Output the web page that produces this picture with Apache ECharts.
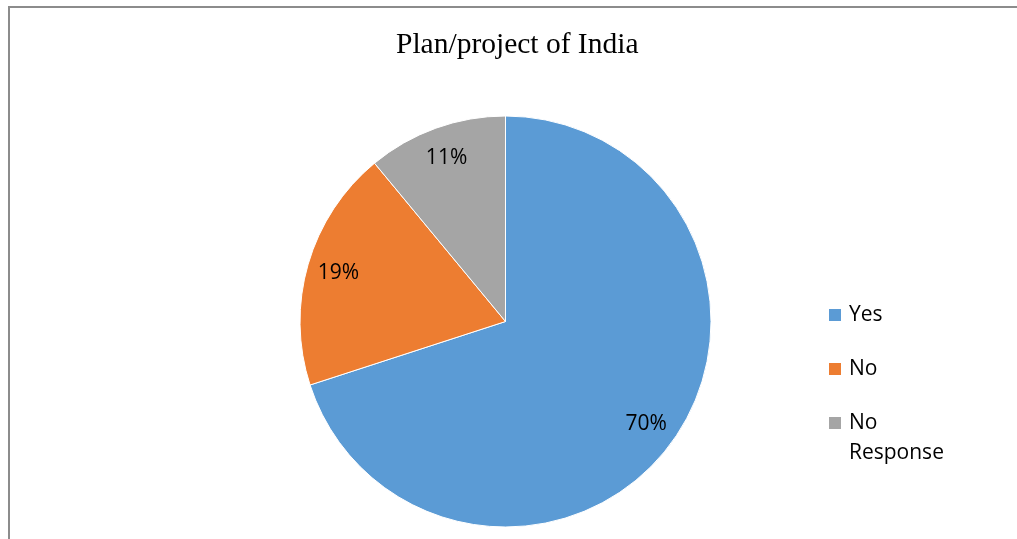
<!DOCTYPE html>
<html>
<head>
<meta charset="utf-8">
<script src="https://cdn.jsdelivr.net/npm/echarts@6/dist/echarts.min.js"></script>
<style>
  html, body { margin: 0; padding: 0; background: #fff; overflow: hidden; }
  #frame { position: absolute; left: 8px; top: 6px; width: 1100px; height: 600px;
           border: 2px solid #8c8c8c; box-sizing: border-box; }
  #chart { position: absolute; left: 0; top: 0; width: 1017px; height: 539px; }
</style>
</head>
<body>
<div id="frame"></div>
<div id="chart"></div>
<script>
// Survey answers, in percent
const categories = ['Yes', 'No', 'No Response'];
const shares = [70, 19, 11];
const colors = ['#5B9BD5', '#ED7D31', '#A5A5A5'];
const titleText = 'Plan/project of India';

const pieData = categories.map((name, i) => ({ name: name, value: shares[i] }));
const center = [505.5, 321.5];
const labelFont = '"Open Sans", "Noto Sans", sans-serif';

const chart = echarts.init(document.getElementById('chart'), null, { renderer: 'canvas' });
chart.setOption({
  animation: false,
  color: colors,
  title: {
    text: titleText,
    left: 396,
    top: 30,
    padding: 0,
    textStyle: {
      fontFamily: '"Liberation Serif", "Times New Roman", serif',
      fontSize: 29.5,
      fontWeight: 'normal',
      color: '#000',
      lineHeight: 29.5
    }
  },
  legend: [
    {
      data: ['Yes', 'No'],
      orient: 'vertical',
      left: 827,
      top: 300,
      padding: 0,
      itemGap: 24,
      icon: 'rect',
      itemWidth: 14,
      itemHeight: 14,
      selectedMode: false,
      textStyle: { fontFamily: labelFont, fontSize: 21, color: '#000', lineHeight: 30, padding: [0, 0, 0, 2] }
    },
    {
      // two-line entry, first line kept level with its swatch
      data: ['No Response'],
      orient: 'vertical',
      left: 827,
      top: 378,
      padding: 0,
      icon: 'rect',
      itemWidth: 14,
      itemHeight: 14,
      selectedMode: false,
      formatter: name => '\n' + name.replace(' ', '\n'),
      textStyle: { fontFamily: labelFont, fontSize: 21, color: '#000', lineHeight: 30, padding: [0, 0, 0, 2] }
    }
  ],
  series: [
    {
      type: 'pie',
      center: center,
      radius: [0, 205.5],
      startAngle: 90,
      clockwise: true,
      silent: true,
      label: { show: false },
      labelLine: { show: false },
      itemStyle: { borderColor: '#ffffff', borderWidth: 1 },
      data: pieData
    },
    {
      // transparent ring that places the percentage labels near the rim
      type: 'pie',
      center: center,
      radius: [136, 206],
      startAngle: 90,
      clockwise: true,
      silent: true,
      itemStyle: { color: 'rgba(0,0,0,0)', borderWidth: 0 },
      label: {
        show: true,
        position: 'inside',
        formatter: p => p.value + '%',
        fontFamily: labelFont,
        fontSize: 21,
        color: '#000'
      },
      labelLine: { show: false },
      data: pieData
    }
  ]
});
</script>
</body>
</html>
